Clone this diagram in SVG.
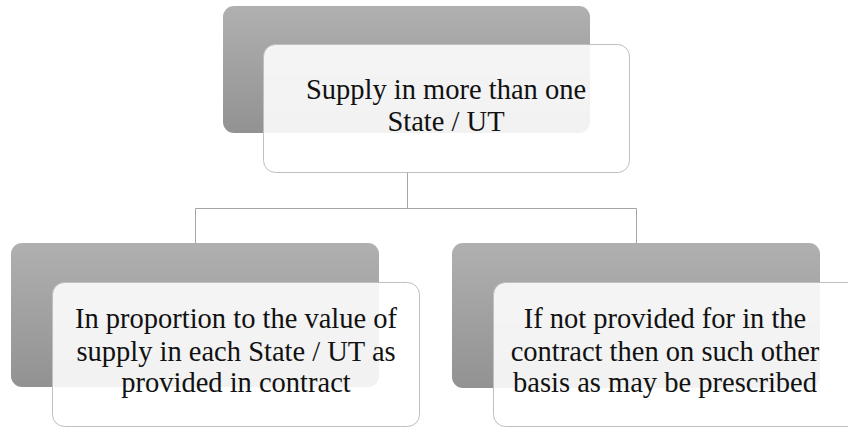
<svg xmlns="http://www.w3.org/2000/svg" width="848" height="428" viewBox="0 0 848 428">
<style>
.back{fill:url(#g);}
.front{fill:#ffffff;fill-opacity:0.88;stroke:#bfbfbf;stroke-width:1;}
.t{font-family:"Liberation Serif","Times New Roman",serif;font-size:28.5px;fill:#111111;text-anchor:middle;}
.c{stroke:#a6a6a6;stroke-width:1;fill:none;}
</style>
<defs>
<linearGradient id="g" x1="0" y1="0" x2="0" y2="1">
<stop offset="0" stop-color="#b0b0b0"/>
<stop offset="1" stop-color="#929292"/>
</linearGradient>
</defs>
<g id="connectors">
<path class="c" d="M407.5 172 V208.5 M195.5 243 V208.5 H636.5 V243"/>
</g>
<g id="node-top">
<rect class="back" x="223" y="6" width="367" height="127" rx="11"/>
<rect class="front" x="263.5" y="44.5" width="366" height="128" rx="12"/>
<text class="t" x="446" y="99">Supply in more than one</text>
<text class="t" x="446" y="131">State / UT</text>
</g>
<g id="node-left">
<rect class="back" x="11" y="243" width="368" height="144" rx="11"/>
<rect class="front" x="52.5" y="282.5" width="367" height="144" rx="12"/>
<text class="t" x="236" y="328">In proportion to the value of</text>
<text class="t" x="236" y="361">supply in each State / UT as</text>
<text class="t" x="236" y="392">provided in contract</text>
</g>
<g id="node-right">
<rect class="back" x="452" y="243" width="368" height="145" rx="11"/>
<rect class="front" x="493.5" y="282.5" width="367" height="144" rx="12"/>
<text class="t" x="665" y="328">If not provided for in the</text>
<text class="t" x="665" y="361">contract then on such other</text>
<text class="t" x="665" y="392">basis as may be prescribed</text>
</g>
</svg>
